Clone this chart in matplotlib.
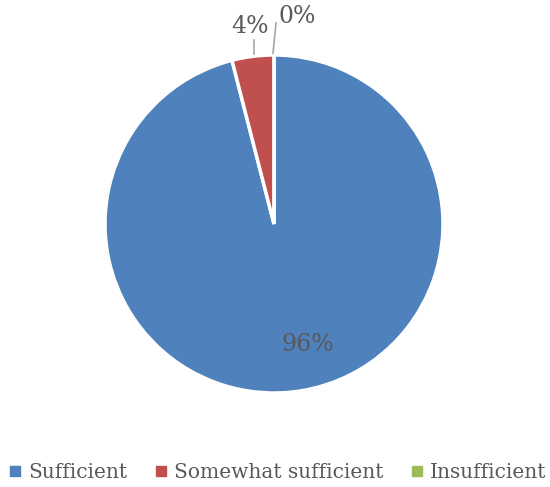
import numpy as np
import matplotlib.pyplot as plt
from matplotlib.lines import Line2D

categories = ["Sufficient", "Somewhat sufficient", "Insufficient"]
values = [96, 4, 0]
pct_labels = ["96%", "4%", "0%"]
colors = ["#4F81BD", "#C0504D", "#9BBB59"]
text_color = "#595959"

plt.rcParams["font.family"] = ["DejaVu Serif"]

W, H = 550, 487
fig = plt.figure(figsize=(W / 100, H / 100), dpi=100)
cx, cy, r = 274, 224, 169
ax = fig.add_axes([(cx - r) / W, (H - cy - r) / H, 2 * r / W, 2 * r / H])

wedges, _ = ax.pie(values, colors=colors, startangle=90, counterclock=False,
                   radius=1.0,
                   wedgeprops=dict(edgecolor="white", linewidth=2.5))
ax.set_xlim(-1, 1)
ax.set_ylim(-1, 1)
ax.set_aspect("equal")
ax.axis("off")

# mid-angle of each slice (clockwise from 12 o'clock)
total = sum(values)
start = 90.0
mids = []
for v in values:
    span = 360.0 * v / total
    mids.append(start - span / 2)
    start -= span

# inside label for the large slice
a = np.deg2rad(mids[0]) + 0.15
ax.text(0.74 * np.cos(a), 0.74 * np.sin(a), pct_labels[0], ha="center",
        va="center", fontsize=17, color=text_color)

# outside labels with leader lines for the small slices
leader = [None, (-0.118, 1.006, -0.118, 1.09, -0.142, 1.17),
          (-0.006, 1.01, 0.012, 1.19, 0.136, 1.225)]
for i in (1, 2):
    x0, y0, x1, y1, tx, ty = leader[i]
    ax.plot([x0, x1], [y0, y1], color="#A6A6A6", lw=1.2, clip_on=False)
    ax.text(tx, ty, pct_labels[i], ha="center", va="center", fontsize=17,
            color=text_color, clip_on=False)

handles = [Line2D([], [], marker="s", linestyle="none", markersize=6.5,
                  markerfacecolor=c, markeredgecolor=c) for c in colors]
fig.legend(handles, categories, loc="center", bbox_to_anchor=(0.505, 1 - 473 / H),
           ncol=3, frameon=False, fontsize=14.5, handlelength=0.6,
           handletextpad=0.35, columnspacing=1.35, labelcolor=text_color)

fig.savefig("out.png", dpi=100)
